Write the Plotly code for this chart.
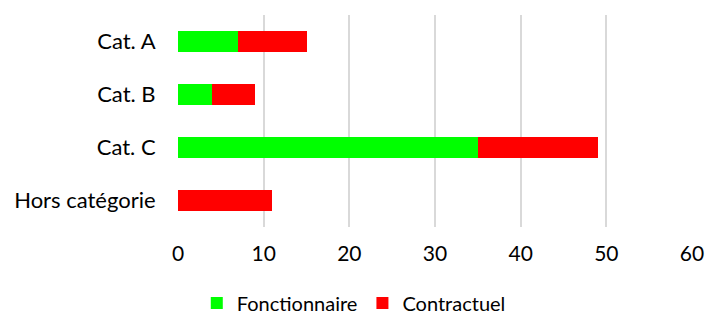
import plotly.graph_objects as go

categories = ["Cat. A", "Cat. B", "Cat. C", "Hors catégorie"]
fonctionnaire = [7, 4, 35, 0]
contractuel = [8, 5, 14, 11]
tick_vals = [0, 10, 20, 30, 40, 50, 60]

fig = go.Figure()
fig.add_trace(go.Bar(y=categories, x=fonctionnaire, name="Fonctionnaire", orientation="h",
                     marker=dict(color="#00FF00", line=dict(width=0))))
fig.add_trace(go.Bar(y=categories, x=contractuel, name="Contractuel", orientation="h",
                     marker=dict(color="#FF0000", line=dict(width=0))))

fig.update_layout(
    width=707, height=345,
    barmode="stack", bargap=0.6,
    margin=dict(l=178, r=15, t=15, b=118),
    paper_bgcolor="white", plot_bgcolor="white",
    font=dict(family="Lato, 'Gill Sans', sans-serif", size=20, color="#000000"),
    xaxis=dict(range=[0, 60], tickvals=tick_vals, showgrid=True, gridcolor="#D9D9D9",
               gridwidth=1.5, zeroline=False, ticks="outside", ticklen=8, tickcolor="rgba(0,0,0,0)",
               showline=False, automargin=False, tickfont=dict(size=21)),
    yaxis=dict(autorange="reversed", ticks="outside", ticklen=17, tickcolor="rgba(0,0,0,0)",
               showline=False, showgrid=False, automargin=False, tickfont=dict(size=22)),
    legend=dict(orientation="h", x=0.342, xanchor="center", y=-0.358, yanchor="middle",
                font=dict(size=20), itemwidth=30, traceorder="normal"),
)
fig.write_html("out.html", config={"displayModeBar": False},
               post_script="document.body.style.margin='0';document.body.style.overflow='hidden';")
